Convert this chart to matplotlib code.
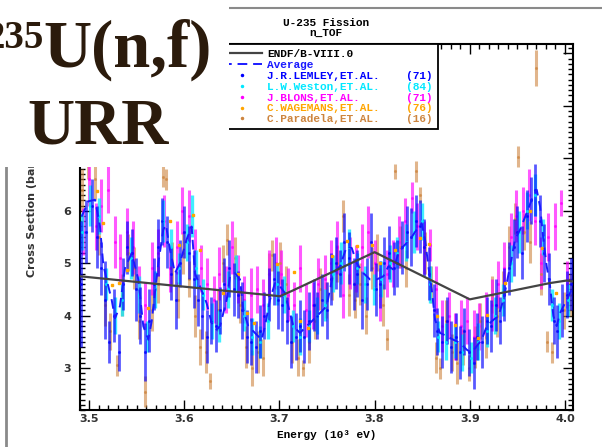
import matplotlib
matplotlib.use("Agg")
import matplotlib.pyplot as plt
from matplotlib.lines import Line2D
from matplotlib.patches import Rectangle
from matplotlib.transforms import Bbox
from matplotlib.ticker import MultipleLocator, FormatStrFormatter

# ENDF/B-VIII.0 evaluation (10^3 eV, barns)
ENDF_E = [3.4905, 3.7006, 3.713, 3.800, 3.900, 3.984, 4.002, 4.0084]
ENDF_XS = [4.75, 4.37, 4.47, 5.21, 4.31, 4.62, 4.67, 4.65]

# average of experiments
AVG_E = [3.4923, 3.4993, 3.5063, 3.5115, 3.5150, 3.5185, 3.5238, 3.5273, 3.5325, 3.5378,
         3.5448, 3.5518, 3.5570, 3.5623, 3.5658, 3.5728, 3.5780, 3.5808, 3.5850, 3.5903,
         3.5955, 3.6025, 3.6078, 3.6113, 3.6165, 3.6235, 3.6288, 3.6341, 3.6376, 3.6446,
         3.6481, 3.6533, 3.6586, 3.6621, 3.6673, 3.6743, 3.6813, 3.6848, 3.6901, 3.6953,
         3.7006, 3.7058, 3.7111, 3.7146, 3.7216, 3.7286, 3.7356, 3.7426, 3.7496, 3.7566,
         3.7619, 3.7637, 3.7707, 3.7760, 3.7812, 3.7882, 3.7952, 3.8022, 3.8092, 3.8145,
         3.8197, 3.8250, 3.8302, 3.8372, 3.8442, 3.8495, 3.8530, 3.8565, 3.8600, 3.8635,
         3.8687, 3.8757, 3.8827, 3.8897, 3.8968, 3.9020, 3.9073, 3.9125, 3.9178, 3.9248,
         3.9300, 3.9353, 3.9423, 3.9475, 3.9528, 3.9598, 3.9650, 3.9703, 3.9738, 3.9773,
         3.9808, 3.9843, 3.9878, 3.9913, 3.9948, 4.0000, 4.0053, 4.0084]
AVG_XS = [5.89, 6.18, 6.21, 5.70, 4.97, 4.69, 4.30, 3.95, 4.18, 4.91,
          5.19, 4.69, 3.80, 3.54, 3.89, 5.00, 5.64, 5.73, 5.26, 4.81,
          5.00, 5.45, 5.70, 4.81, 4.56, 4.24, 3.86, 3.73, 3.80, 4.30,
          4.75, 4.81, 4.69, 4.11, 3.80, 3.67, 3.54, 3.80, 4.30, 4.62,
          4.56, 4.43, 4.05, 3.80, 3.67, 3.80, 3.92, 4.05, 4.18, 4.81,
          4.91, 4.94, 5.32, 5.29, 5.00, 4.81, 4.69, 4.69, 4.75, 4.94,
          4.88, 5.19, 5.32, 5.45, 5.64, 5.76, 5.45, 4.94, 4.50, 3.92,
          3.67, 3.61, 3.54, 3.48, 3.35, 3.29, 3.42, 3.54, 3.80, 3.92,
          3.99, 4.30, 4.94, 5.45, 5.64, 5.96, 6.21, 6.40, 6.08, 5.45,
          4.94, 4.56, 3.99, 3.80, 4.05, 4.24, 4.43, 4.56]

# J.R.LEMLEY (71)
LEMLEY_E = [3.492, 3.497, 3.503, 3.508, 3.513, 3.517, 3.521, 3.526, 3.531, 3.536,
            3.540, 3.545, 3.549, 3.554, 3.559, 3.563, 3.568, 3.572, 3.577, 3.582,
            3.586, 3.591, 3.596, 3.600, 3.605, 3.610, 3.614, 3.619, 3.624, 3.628,
            3.633, 3.638, 3.642, 3.647, 3.652, 3.656, 3.661, 3.666, 3.670, 3.675,
            3.680, 3.684, 3.689, 3.694, 3.698, 3.703, 3.708, 3.712, 3.717, 3.722,
            3.726, 3.731, 3.736, 3.740, 3.745, 3.750, 3.754, 3.759, 3.764, 3.768,
            3.773, 3.778, 3.782, 3.787, 3.792, 3.796, 3.801, 3.806, 3.810, 3.815,
            3.820, 3.824, 3.829, 3.834, 3.838, 3.843, 3.848, 3.852, 3.857, 3.862,
            3.866, 3.871, 3.876, 3.880, 3.885, 3.890, 3.894, 3.899, 3.904, 3.908,
            3.913, 3.918, 3.922, 3.927, 3.932, 3.936, 3.941, 3.946, 3.950, 3.955,
            3.960, 3.964, 3.969, 3.974, 3.978, 3.983, 3.988, 3.992, 3.997, 4.002,
            4.006]
LEMLEY_XS = [4.6, 5.6, 6.1, 5.5, 4.9, 4.3, 3.5, 4.0, 3.3, 4.6,
             5.3, 5.2, 4.5, 4.0, 3.3, 3.9, 4.6, 5.3, 5.8, 5.4,
             4.8, 4.3, 5.0, 5.6, 5.2, 4.7, 4.3, 4.0, 3.6, 3.9,
             3.8, 4.1, 4.6, 4.9, 4.5, 4.4, 4.1, 3.6, 3.5, 3.4,
             3.7, 4.0, 4.4, 4.7, 4.3, 4.2, 3.9, 3.5, 3.6, 3.8,
             3.6, 3.9, 4.2, 4.0, 4.3, 4.1, 4.7, 5.0, 4.8, 5.4,
             5.1, 4.6, 4.8, 4.3, 4.6, 5.4, 4.5, 4.6, 5.0, 5.2,
             4.9, 5.0, 5.3, 5.6, 5.5, 5.8, 5.7, 5.3, 4.8, 4.1,
             3.7, 3.5, 3.9, 3.4, 3.6, 3.3, 3.7, 3.3, 3.1, 3.6,
             3.5, 3.9, 3.8, 4.2, 3.9, 4.4, 4.9, 5.3, 5.6, 5.2,
             5.9, 6.2, 6.4, 5.8, 5.2, 4.7, 3.9, 3.7, 4.1, 4.4,
             4.6]
LEMLEY_ERR = [1.2, 0.6, 0.5, 0.6, 0.5, 0.75, 0.4, 0.5, 0.35, 0.5,
              0.5, 0.45, 0.6, 0.55, 0.55, 0.6, 0.5, 0.55, 0.45, 0.5,
              0.5, 0.55, 0.45, 0.5, 0.5, 0.55, 0.5, 0.45, 0.5, 0.45,
              0.5, 0.45, 0.5, 0.55, 0.5, 0.45, 0.55, 0.5, 0.45, 0.5,
              0.5, 0.45, 0.5, 0.5, 0.55, 0.5, 0.45, 0.5, 0.45, 0.5,
              0.5, 0.55, 0.5, 0.45, 0.5, 0.55, 0.5, 0.5, 0.45, 0.55,
              0.5, 0.5, 0.45, 0.55, 0.5, 0.55, 0.5, 0.45, 0.5, 0.5,
              0.5, 0.45, 0.5, 0.5, 0.55, 0.5, 0.5, 0.55, 0.5, 0.5,
              0.45, 0.5, 0.45, 0.5, 0.45, 0.5, 0.45, 0.45, 0.5, 0.45,
              0.5, 0.45, 0.5, 0.5, 0.45, 0.5, 0.5, 0.55, 0.5, 0.5,
              0.5, 0.45, 0.5, 0.5, 0.55, 0.5, 0.45, 0.5, 0.5, 0.45,
              0.5]

# L.W.Weston (84)
WESTON_E = [3.493, 3.501, 3.510, 3.518, 3.527, 3.535, 3.544, 3.552, 3.561, 3.569,
            3.578, 3.586, 3.595, 3.603, 3.608, 3.612, 3.620, 3.629, 3.637, 3.646,
            3.654, 3.663, 3.671, 3.680, 3.688, 3.697, 3.705, 3.714, 3.722, 3.731,
            3.739, 3.748, 3.756, 3.765, 3.773, 3.782, 3.790, 3.799, 3.807, 3.816,
            3.824, 3.833, 3.841, 3.850, 3.858, 3.867, 3.875, 3.884, 3.892, 3.901,
            3.909, 3.918, 3.926, 3.935, 3.943, 3.952, 3.960, 3.969, 3.977, 3.986,
            3.994, 4.003]
WESTON_XS = [5.6, 6.1, 5.9, 4.6, 4.0, 4.3, 5.1, 4.4, 3.6, 4.5,
             5.8, 5.3, 4.9, 5.4, 5.9, 4.9, 4.4, 3.9, 3.8, 4.5,
             4.8, 4.0, 3.6, 3.5, 3.9, 4.6, 4.4, 3.8, 3.6, 3.8,
             4.0, 4.2, 4.8, 5.0, 5.3, 4.9, 4.6, 4.5, 4.7, 5.0,
             5.2, 5.4, 5.6, 5.8, 4.6, 3.6, 3.5, 3.5, 3.3, 3.2,
             3.5, 3.7, 4.0, 4.3, 5.0, 5.6, 6.0, 6.3, 5.5, 4.2,
             3.9, 4.3]
WESTON_ERR = [0.35, 0.4, 0.35, 0.3, 0.35, 0.3, 0.4, 0.35, 0.3, 0.35,
              0.4, 0.35, 0.3, 0.35, 0.4, 0.35, 0.3, 0.35, 0.3, 0.35,
              0.35, 0.3, 0.35, 0.3, 0.35, 0.4, 0.35, 0.3, 0.35, 0.3,
              0.35, 0.3, 0.35, 0.4, 0.35, 0.3, 0.35, 0.3, 0.35, 0.35,
              0.3, 0.35, 0.4, 0.35, 0.35, 0.3, 0.35, 0.3, 0.35, 0.3,
              0.35, 0.3, 0.35, 0.3, 0.35, 0.4, 0.35, 0.4, 0.35, 0.3,
              0.35, 0.3]

# J.BLONS (71)
BLONS_E = [3.494, 3.500, 3.507, 3.513, 3.520, 3.527, 3.533, 3.540, 3.546, 3.553,
           3.559, 3.566, 3.572, 3.579, 3.585, 3.592, 3.598, 3.605, 3.611, 3.618,
           3.624, 3.631, 3.637, 3.644, 3.650, 3.657, 3.663, 3.670, 3.676, 3.683,
           3.689, 3.696, 3.702, 3.709, 3.715, 3.722, 3.728, 3.735, 3.741, 3.748,
           3.754, 3.761, 3.767, 3.774, 3.780, 3.787, 3.793, 3.800, 3.806, 3.813,
           3.819, 3.826, 3.832, 3.839, 3.845, 3.852, 3.858, 3.865, 3.871, 3.878,
           3.884, 3.891, 3.897, 3.904, 3.910, 3.917, 3.923, 3.930, 3.936, 3.943,
           3.949, 3.956, 3.962, 3.969, 3.975, 3.982, 3.989, 3.996, 4.002]
BLONS_XS = [5.6, 6.6, 5.7, 6.1, 6.4, 5.4, 5.1, 5.6, 5.3, 4.5,
            4.2, 4.9, 5.2, 5.8, 4.9, 5.3, 6.0, 5.9, 5.2, 4.9,
            4.6, 4.3, 4.8, 4.5, 5.3, 4.7, 4.3, 4.4, 4.5, 4.2,
            4.8, 5.0, 4.8, 4.4, 4.2, 4.9, 4.1, 4.2, 4.6, 4.7,
            5.0, 5.3, 4.4, 5.0, 4.9, 5.3, 5.6, 5.0, 4.4, 4.8,
            5.0, 5.4, 5.8, 6.25, 5.7, 5.3, 5.35, 4.5, 3.8, 4.0,
            3.6, 3.8, 3.9, 3.6, 3.8, 4.0, 4.2, 4.6, 4.9, 5.5,
            5.9, 6.0, 6.3, 5.8, 5.0, 5.5, 5.7, 6.15, 4.6]
BLONS_ERR = [0.45, 0.5, 0.45, 0.5, 0.45, 0.5, 0.45, 0.45, 0.5, 0.45,
             0.45, 0.5, 0.45, 0.5, 0.45, 0.5, 0.45, 0.5, 0.45, 0.45,
             0.5, 0.45, 0.5, 0.45, 0.5, 0.45, 0.45, 0.5, 0.45, 0.5,
             0.45, 0.5, 0.45, 0.5, 0.45, 0.45, 0.5, 0.45, 0.5, 0.45,
             0.45, 0.5, 0.45, 0.5, 0.45, 0.45, 0.5, 0.45, 0.5, 0.45,
             0.45, 0.5, 0.45, 0.3, 0.45, 0.5, 0.3, 0.45, 0.5, 0.45,
             0.45, 0.5, 0.45, 0.5, 0.45, 0.45, 0.5, 0.45, 0.5, 0.45,
             0.5, 0.45, 0.5, 0.45, 0.5, 0.45, 0.45, 0.25, 0.45]

# C.WAGEMANS (76)
WAGEMANS_E = [3.508, 3.515, 3.524, 3.532, 3.540, 3.562, 3.585, 3.594, 3.609, 3.617,
              3.641, 3.657, 3.666, 3.673, 3.697, 3.715, 3.722, 3.730, 3.755, 3.771,
              3.781, 3.797, 3.806, 3.821, 3.848, 3.857, 3.866, 3.884, 3.909, 3.918,
              3.937, 3.963, 3.976, 3.991]
WAGEMANS_XS = [6.37, 5.76, 4.58, 4.63, 4.87, 4.15, 5.81, 5.35, 5.92, 5.26,
               4.43, 4.79, 4.05, 3.86, 4.99, 4.84, 3.89, 3.76, 5.13, 5.42,
               5.32, 5.35, 5.00, 5.26, 5.48, 5.37, 4.00, 3.83, 3.57, 4.02,
               4.62, 5.99, 5.29, 4.43]

# C.Paradela (16)
PARADELA_E = [3.493, 3.499, 3.506, 3.511, 3.517, 3.522, 3.529, 3.535, 3.541, 3.547,
              3.553, 3.559, 3.566, 3.572, 3.578, 3.581, 3.587, 3.593, 3.599, 3.605,
              3.611, 3.617, 3.623, 3.627, 3.635, 3.641, 3.645, 3.653, 3.659, 3.665,
              3.671, 3.677, 3.683, 3.689, 3.692, 3.701, 3.707, 3.713, 3.719, 3.725,
              3.731, 3.737, 3.743, 3.749, 3.755, 3.761, 3.767, 3.773, 3.779, 3.785,
              3.791, 3.797, 3.803, 3.809, 3.813, 3.821, 3.827, 3.833, 3.843, 3.848,
              3.853, 3.859, 3.865, 3.869, 3.875, 3.881, 3.887, 3.893, 3.899, 3.905,
              3.911, 3.917, 3.923, 3.929, 3.935, 3.941, 3.947, 3.951, 3.957, 3.963,
              3.9695, 3.975, 3.981, 3.986, 3.999, 4.005]
PARADELA_XS = [6.4, 7.0, 6.6, 5.5, 4.2, 3.7, 3.05, 4.4, 5.2, 4.9,
               3.9, 2.55, 4.1, 4.6, 6.65, 6.6, 5.0, 4.3, 5.2, 4.7,
               4.0, 3.4, 3.3, 2.75, 4.1, 5.0, 5.45, 5.1, 4.2, 3.4,
               3.0, 3.3, 3.2, 4.8, 5.15, 5.0, 4.6, 3.5, 3.2, 3.0,
               3.5, 3.9, 4.5, 4.3, 4.7, 5.0, 5.9, 4.4, 4.3, 4.6,
               4.0, 4.9, 5.2, 4.2, 3.55, 6.75, 5.3, 4.9, 6.75, 6.3,
               5.2, 4.6, 3.2, 3.0, 3.9, 3.3, 3.1, 3.4, 3.0, 3.4,
               3.9, 3.6, 4.4, 4.0, 4.5, 5.3, 5.85, 7.03, 5.6, 5.4,
               8.72, 4.8, 3.5, 3.3, 4.1, 4.4]
PARADELA_ERR = [0.4, 0.4, 0.4, 0.35, 0.4, 0.35, 0.2, 0.4, 0.35, 0.4,
                0.35, 0.3, 0.4, 0.35, 0.2, 0.2, 0.4, 0.35, 0.4, 0.35,
                0.4, 0.35, 0.4, 0.15, 0.4, 0.35, 0.3, 0.4, 0.35, 0.4,
                0.35, 0.4, 0.35, 0.4, 0.3, 0.4, 0.35, 0.4, 0.35, 0.15,
                0.4, 0.35, 0.4, 0.35, 0.4, 0.35, 0.3, 0.4, 0.35, 0.4,
                0.35, 0.4, 0.35, 0.4, 0.2, 0.15, 0.4, 0.35, 0.2, 0.15,
                0.4, 0.35, 0.3, 0.2, 0.4, 0.35, 0.4, 0.35, 0.25, 0.4,
                0.35, 0.4, 0.35, 0.4, 0.35, 0.4, 0.3, 0.2, 0.35, 0.4,
                0.35, 0.4, 0.2, 0.2, 0.35, 0.4]

Y_TICKS = [3, 4, 5, 6, 7, 8, 9]
Y_TICK_LABELS = ["3", "4", "5", "6", "", "", ""]  # 7-9 sit under the slide title

LEGEND_LABELS = ["ENDF/B-VIII.0", "Average", "J.R.LEMLEY,ET.AL.", "L.W.Weston,ET.AL.",
                 "J.BLONS,ET.AL.", "C.WAGEMANS,ET.AL.", "C.Paradela,ET.AL."]
LEGEND_YEARS = ["", "", "(71)", "(84)", "(71)", "(76)", "(16)"]

C_ENDF = "#444444"
C_AVG = "#1a1aff"
C_LEMLEY = "#0000ff"
C_WESTON = "#00e8ff"
C_BLONS = "#ff00ff"
C_WAGEMANS = "#ffa500"
C_PARADELA = "#cd853f"
TITLE_BROWN = "#2b1b0c"

W, H = 602, 447
fig = plt.figure(figsize=(W / 100, H / 100), dpi=100)
ax = fig.add_axes([79.5 / W, 1 - 410 / H, 493.5 / W, 366 / H])

ax.errorbar(PARADELA_E, PARADELA_XS, yerr=PARADELA_ERR, fmt=".", ms=2.5, color=C_PARADELA,
            elinewidth=2.2, capsize=0, alpha=0.6, zorder=2)
ax.errorbar(BLONS_E, BLONS_XS, yerr=BLONS_ERR, fmt=".", ms=2.5, color=C_BLONS,
            elinewidth=2.2, capsize=0, alpha=0.65, zorder=2)
ax.errorbar(WESTON_E, WESTON_XS, yerr=WESTON_ERR, fmt=".", ms=2.5, color=C_WESTON,
            elinewidth=2.4, capsize=0, alpha=0.75, zorder=3)
ax.errorbar(LEMLEY_E, LEMLEY_XS, yerr=LEMLEY_ERR, fmt=".", ms=2.5, color=C_LEMLEY,
            elinewidth=2.0, capsize=0, alpha=0.65, zorder=3)
ax.plot(WAGEMANS_E, WAGEMANS_XS, ls="none", marker="s", ms=1.8, color=C_WAGEMANS, zorder=4)
ax.plot(AVG_E, AVG_XS, color=C_AVG, lw=1.4, ls=(0, (5, 3)), zorder=5)
ax.plot(ENDF_E, ENDF_XS, color=C_ENDF, lw=1.6, zorder=6)

ax.set_xlim(3.49, 4.0084)
ax.set_ylim(2.2, 9.18)
ax.xaxis.set_major_locator(MultipleLocator(0.1))
ax.xaxis.set_minor_locator(MultipleLocator(0.01))
ax.xaxis.set_major_formatter(FormatStrFormatter("%.1f"))
ax.set_yticks(Y_TICKS, labels=Y_TICK_LABELS)
ax.yaxis.set_minor_locator(MultipleLocator(0.1))
ax.tick_params(which="both", direction="in", top=True, right=True, width=1.0, color="black")
ax.tick_params(which="major", length=7)
ax.tick_params(which="minor", length=3.5)
ax.tick_params(axis="x", pad=3)
ax.tick_params(axis="y", pad=6)
for lab in ax.get_xticklabels() + ax.get_yticklabels():
    lab.set_fontweight("bold")
    lab.set_fontsize(8)
    lab.set_color("#333333")
for sp in ax.spines.values():
    sp.set_linewidth(1.5)

ax.set_xlabel("Energy (10³ eV)", family="Liberation Mono", fontweight="bold", fontsize=8, labelpad=4)
ax.set_ylabel("Cross Section (barns)", fontweight="bold", fontsize=8, color="#333333")
ax.yaxis.set_label_coords(-0.086, (410 - 210) / 366)
# the slide title box hides the top of the y label
ax.yaxis.label.set_clip_box(Bbox.from_extents(0, 0, 229, H - 167))
ax.set_title("U-235 Fission\nn_TOF", family="Liberation Mono", fontweight="bold", fontsize=8,
             linespacing=1.0, pad=6)

handles = [
    Line2D([], [], color=C_ENDF, lw=1.6),
    Line2D([], [], color=C_AVG, lw=1.4, ls=(0, (5, 3))),
    Line2D([], [], ls="none", marker=".", ms=3, color=C_LEMLEY),
    Line2D([], [], ls="none", marker=".", ms=3, color=C_WESTON),
    Line2D([], [], ls="none", marker=".", ms=3, color=C_BLONS),
    Line2D([], [], ls="none", marker=".", ms=3, color=C_WAGEMANS),
    Line2D([], [], ls="none", marker=".", ms=3, color=C_PARADELA),
]
labels = [(n.ljust(21) + y).rstrip() for n, y in zip(LEGEND_LABELS, LEGEND_YEARS)]
leg = ax.legend(handles, labels, loc="upper right", bbox_to_anchor=((438 - 79.5) / 493.5, 1.0),
                borderaxespad=0, fancybox=False, framealpha=1, edgecolor="black",
                prop={"family": "Liberation Mono", "weight": "bold", "size": 8},
                handlelength=3.6, handletextpad=0.5, labelspacing=0.08, borderpad=0.45)
leg.get_frame().set_linewidth(1.3)
for txt, c in zip(leg.get_texts(), ["black", C_AVG, C_LEMLEY, C_WESTON, C_BLONS, C_WAGEMANS, C_PARADELA]):
    txt.set_color(c)
leg.set_zorder(20)

# slide elements: white title box hiding the plot corner, frame edges, big title
fig.patches.append(Rectangle((0, 1 - 167 / H), 229 / W, 167 / H, transform=fig.transFigure,
                             facecolor="white", edgecolor="none", zorder=10))
fig.add_artist(Line2D([229 / W, 1], [1 - 8 / H, 1 - 8 / H], transform=fig.transFigure,
                      color="#8a8a8a", lw=1.5, zorder=9))
fig.add_artist(Line2D([5.5 / W, 5.5 / W], [0, 1 - 167 / H], transform=fig.transFigure,
                      color="#8a8a8a", lw=2, zorder=9))
fig.text(44 / W, 1 - 20 / H, "235", ha="right", va="top", family="Liberation Serif",
         fontweight="bold", fontsize=28, color=TITLE_BROWN, zorder=11)
fig.text(43 / W, 1 - 67 / H, "U(n,f)", ha="left", va="baseline", family="Liberation Serif",
         fontweight="bold", fontsize=48, color=TITLE_BROWN, zorder=11)
fig.text(98 / W, 1 - 143 / H, "URR", ha="center", va="baseline", family="Liberation Serif",
         fontweight="bold", fontsize=47, color=TITLE_BROWN, zorder=11)

fig.savefig("out.png", dpi=100)
